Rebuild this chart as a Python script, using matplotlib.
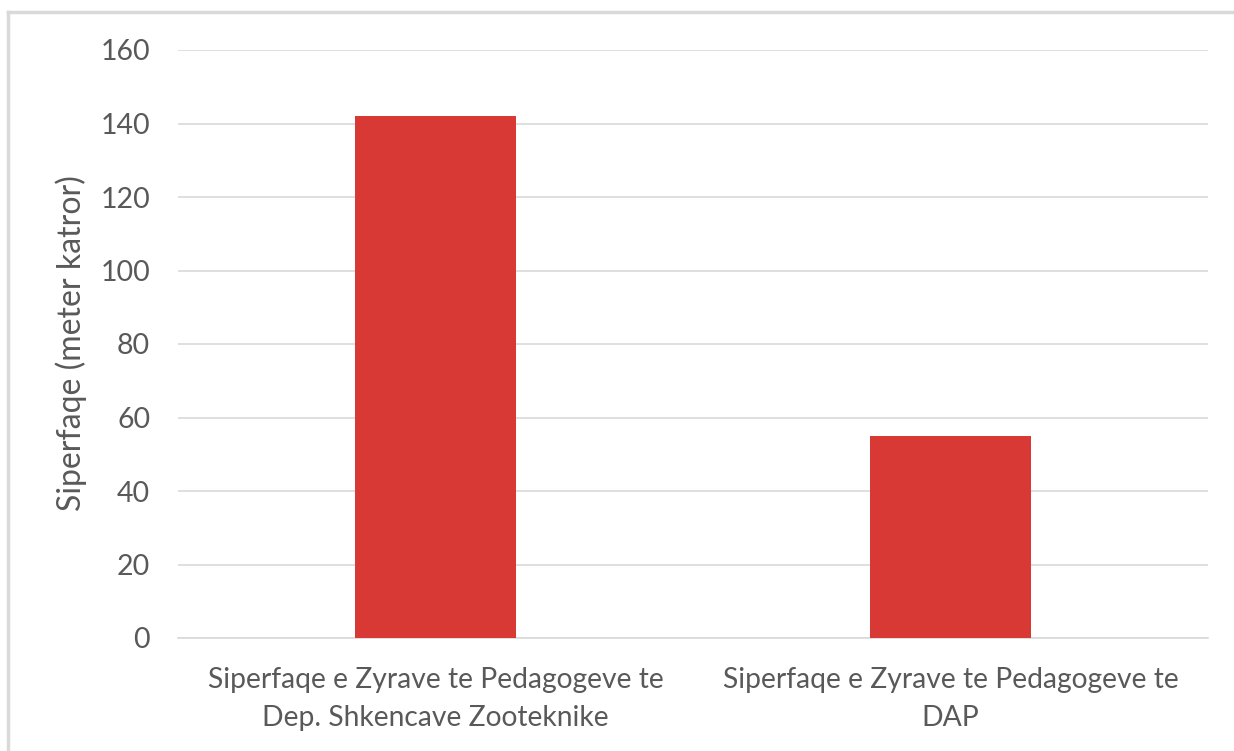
import matplotlib
matplotlib.use("Agg")
import matplotlib.pyplot as plt

categories = ["Siperfaqe e Zyrave te Pedagogeve te\nDep. Shkencave Zooteknike",
              "Siperfaqe e Zyrave te Pedagogeve te\nDAP"]
values = [142, 55]
yticks = [0, 20, 40, 60, 80, 100, 120, 140, 160]

TXT = "#595959"
GRID = "#D9D9D9"
RED = "#D93934"

plt.rcParams["font.family"] = ["Lato", "DejaVu Sans"]

fig = plt.figure(figsize=(12.34, 7.51), dpi=100)
ax = fig.add_axes([178 / 1234, 1 - 638 / 751, 1030 / 1234, 588 / 751])

x = range(len(categories))
ax.bar(x, values, width=0.313, color=RED, zorder=3)

ax.set_xlim(-0.5, 1.5)
ax.set_ylim(0, 160)
ax.set_yticks(yticks)
ax.set_xticks(list(x))
ax.set_xticklabels(categories, fontsize=20.3, color=TXT, linespacing=1.55)
ax.tick_params(axis="y", labelsize=20.5, labelcolor=TXT, length=0, pad=20)
ax.tick_params(axis="x", length=0, pad=21)
ax.grid(axis="y", color=GRID, linewidth=1.2, zorder=0)
for s in ["top", "right", "left"]:
    ax.spines[s].set_visible(False)
ax.spines["bottom"].set_color(GRID)
ax.spines["bottom"].set_linewidth(1.2)

ax.set_ylabel("Siperfaqe (meter katror)", fontsize=23, color=TXT)
ax.yaxis.set_label_coords(-0.088, 0.502)

# chart frame (only left and top edges visible in the crop)
fig.add_artist(plt.Line2D([8 / 1234, 8 / 1234], [0, 1 - 12 / 751], color=GRID,
                          linewidth=2.5, transform=fig.transFigure))
fig.add_artist(plt.Line2D([8 / 1234, 1], [1 - 12 / 751, 1 - 12 / 751], color=GRID,
                          linewidth=2.5, transform=fig.transFigure))

fig.savefig("out.png", dpi=100)
